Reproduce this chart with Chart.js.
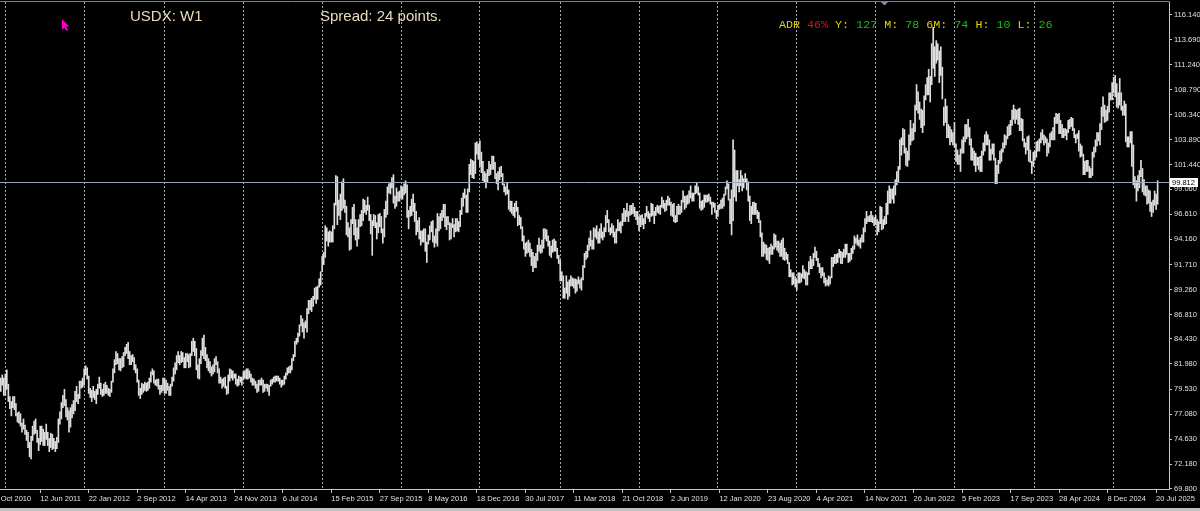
<!DOCTYPE html>
<html>
<head>
<meta charset="utf-8">
<script src="https://cdn.jsdelivr.net/npm/chart.js@4.4.1/dist/chart.umd.min.js"></script>
<style>
  html, body { margin: 0; padding: 0; background: #000; overflow: hidden; }
</style>
</head>
<body>
<canvas id="chart" width="1200" height="511"></canvas>
<script>
// USDX weekly bars (week starting Sunday), high / low per week
const hi2010 = [80.6, 80.9, 80.6]
const lo2010 = [79.3, 79.9, 78.9]

const hi2011 = [81.0, 81.4, 80.0, 78.8, 78.3, 78.8, 78.8, 78.1, 77.2, 77.3, 77.1, 76.2, 76.6, 76.0, 75.5, 75.3, 74.3, 74.9, 75.9, 76.4, 76.6, 75.5, 74.7, 75.9, 75.9, 75.6, 75.3, 76.1, 75.3, 74.7, 75.2, 75.1, 74.7, 74.4, 74.8, 76.6, 77.3, 78.2, 78.9, 79.5, 78.5, 77.7, 77.4, 77.7, 78.0, 78.4, 79.3, 79.8, 79.0, 80.3, 80.3, 80.6]
const lo2011 = [78.9, 79.5, 78.3, 77.6, 76.9, 77.7, 77.5, 76.9, 76.3, 76.2, 75.9, 75.3, 75.6, 75.1, 74.5, 73.8, 72.9, 72.7, 74.5, 75.1, 75.2, 74.3, 73.5, 74.1, 74.4, 74.0, 74.0, 74.6, 74.0, 73.4, 73.8, 73.6, 73.7, 73.4, 73.7, 74.3, 76.1, 76.6, 77.7, 77.9, 76.8, 76.5, 75.3, 75.8, 76.7, 77.1, 77.4, 78.3, 78.1, 78.6, 79.6, 79.7]

const hi2012 = [81.5, 81.8, 81.6, 80.8, 79.6, 79.4, 79.8, 79.3, 79.5, 80.0, 80.7, 80.1, 79.5, 80.0, 80.2, 79.9, 79.6, 79.5, 80.3, 81.5, 82.4, 83.2, 83.0, 82.5, 82.5, 82.7, 83.1, 83.6, 83.9, 84.1, 83.2, 82.8, 82.9, 82.6, 81.9, 81.5, 80.4, 79.6, 80.1, 80.0, 80.2, 80.1, 80.2, 80.6, 81.2, 81.5, 81.3, 80.4, 80.5, 80.5, 79.9, 79.9, 80.6]
const lo2012 = [79.9, 80.9, 80.5, 79.1, 78.7, 78.3, 78.7, 78.5, 78.1, 79.0, 79.6, 79.0, 78.8, 78.9, 79.1, 79.1, 78.9, 78.8, 79.2, 80.2, 81.1, 81.9, 82.0, 81.4, 81.3, 81.6, 81.7, 82.8, 83.0, 82.5, 81.9, 81.9, 82.2, 81.4, 81.1, 80.2, 78.9, 78.6, 79.0, 79.2, 79.4, 79.3, 79.4, 79.6, 80.2, 80.9, 80.1, 79.9, 79.8, 79.5, 79.0, 79.2, 79.4]

const hi2013 = [80.6, 80.4, 80.1, 79.8, 80.0, 80.7, 81.6, 82.1, 82.8, 83.2, 82.8, 83.2, 83.1, 82.6, 83.0, 83.0, 82.9, 83.0, 84.2, 84.5, 84.2, 83.5, 81.9, 82.5, 83.3, 84.5, 84.8, 83.6, 82.9, 82.5, 82.2, 81.7, 81.9, 82.5, 82.7, 82.2, 81.5, 80.7, 80.5, 80.6, 80.7, 79.8, 80.9, 81.5, 81.4, 81.3, 81.0, 81.0, 80.5, 80.8, 80.7, 80.7]
const lo2013 = [79.1, 79.1, 79.4, 78.9, 78.9, 79.8, 80.3, 81.0, 81.4, 82.1, 81.9, 82.1, 82.2, 81.6, 81.6, 82.2, 81.6, 81.7, 82.8, 83.2, 82.8, 81.4, 80.6, 80.5, 82.0, 82.8, 82.5, 82.3, 81.6, 81.3, 81.1, 80.8, 81.0, 81.2, 81.9, 81.1, 80.1, 80.1, 79.6, 79.8, 79.6, 79.0, 79.1, 80.3, 80.6, 80.4, 80.6, 80.0, 79.8, 79.9, 80.2, 79.9]

const hi2014 = [81.2, 81.3, 81.5, 81.5, 81.3, 81.0, 80.6, 80.5, 80.3, 80.0, 80.4, 80.4, 80.6, 80.4, 80.0, 80.0, 80.0, 79.9, 80.4, 80.5, 80.7, 80.8, 80.8, 80.8, 80.6, 80.4, 80.4, 80.8, 81.1, 81.6, 81.7, 81.8, 82.5, 82.9, 84.2, 84.5, 85.0, 85.8, 86.7, 86.4, 86.0, 86.2, 87.4, 88.2, 88.2, 88.4, 88.6, 89.4, 89.5, 89.6, 90.3, 91.0]
const lo2014 = [80.4, 80.6, 80.5, 80.5, 80.6, 80.2, 79.9, 79.9, 79.6, 79.2, 79.3, 79.9, 79.9, 79.2, 79.3, 79.6, 79.3, 78.9, 79.8, 80.0, 80.2, 80.2, 80.3, 80.3, 80.0, 79.7, 79.9, 80.0, 80.5, 80.9, 81.1, 81.1, 81.4, 82.3, 82.7, 83.9, 84.1, 84.7, 85.7, 85.1, 84.5, 85.5, 85.1, 86.9, 87.3, 87.1, 87.6, 88.3, 87.9, 88.3, 89.5, 89.7]

const hi2015 = [92.5, 92.9, 95.5, 95.3, 94.9, 95.0, 94.9, 95.5, 97.7, 100.4, 100.3, 98.0, 98.6, 99.8, 100.1, 98.0, 97.4, 95.8, 95.3, 96.1, 97.3, 97.6, 96.1, 95.3, 96.1, 96.6, 97.0, 98.1, 98.0, 97.5, 98.3, 97.5, 96.6, 96.0, 96.6, 96.5, 95.8, 96.6, 96.7, 96.4, 95.2, 97.1, 97.9, 99.3, 99.6, 99.7, 100.2, 100.5, 98.4, 99.2, 98.8, 98.9]
const lo2015 = [91.0, 91.7, 92.4, 94.0, 93.5, 93.9, 93.9, 93.9, 95.2, 97.5, 95.6, 96.5, 96.1, 97.0, 97.2, 96.8, 94.6, 94.4, 93.1, 93.2, 95.7, 94.6, 94.1, 93.5, 94.2, 95.4, 95.5, 96.0, 96.8, 96.6, 97.0, 96.0, 94.7, 92.6, 95.5, 95.3, 94.2, 94.8, 95.4, 94.8, 93.8, 94.4, 96.3, 96.6, 98.7, 98.6, 99.2, 97.7, 97.2, 97.4, 97.9, 97.9]

const hi2016 = [99.4, 99.3, 99.6, 99.9, 99.5, 97.0, 97.4, 98.1, 98.6, 97.7, 96.9, 96.0, 96.3, 95.0, 95.0, 95.2, 95.2, 93.9, 94.6, 95.5, 95.9, 96.0, 94.5, 95.2, 96.7, 96.4, 96.7, 97.0, 97.6, 97.6, 96.4, 96.4, 95.8, 95.7, 96.2, 95.6, 96.2, 96.2, 95.9, 97.0, 98.2, 98.7, 99.1, 98.5, 99.1, 101.5, 102.0, 101.9, 101.8, 103.6, 103.7, 103.5]
const lo2016 = [98.2, 98.1, 98.5, 98.7, 96.3, 95.2, 96.4, 96.5, 96.9, 95.9, 94.6, 94.9, 94.2, 93.6, 93.9, 93.9, 93.0, 91.9, 93.7, 94.1, 94.9, 93.9, 93.4, 93.8, 93.5, 95.0, 95.2, 96.0, 96.3, 95.4, 95.1, 95.6, 94.1, 94.2, 95.3, 94.4, 94.9, 95.0, 94.9, 95.4, 96.6, 97.4, 98.2, 96.8, 96.8, 98.8, 100.5, 100.2, 100.1, 100.6, 102.5, 102.0]

const hi2017 = [103.8, 102.7, 101.8, 100.8, 100.6, 101.0, 101.8, 101.5, 102.3, 102.3, 101.7, 100.6, 100.8, 101.2, 101.3, 100.6, 99.6, 99.3, 99.7, 99.0, 97.9, 97.9, 97.3, 97.7, 97.9, 97.3, 96.5, 96.3, 95.4, 94.5, 93.8, 93.9, 94.1, 93.8, 93.2, 92.9, 92.5, 92.8, 93.6, 94.3, 93.6, 94.1, 95.2, 95.2, 95.1, 94.5, 94.0, 93.5, 94.1, 94.2, 94.0, 93.3, 92.6]
const lo2017 = [101.3, 100.7, 99.9, 99.8, 99.2, 99.8, 100.4, 100.5, 101.0, 101.0, 100.1, 99.6, 99.0, 100.0, 100.3, 99.5, 98.8, 98.5, 98.6, 97.1, 96.9, 96.7, 96.5, 96.3, 96.9, 95.5, 95.6, 95.2, 94.0, 93.2, 92.5, 92.8, 92.9, 92.5, 91.6, 91.0, 91.4, 91.4, 92.1, 93.0, 92.8, 92.9, 93.3, 94.2, 94.0, 93.5, 92.6, 92.4, 92.9, 93.0, 93.0, 92.3, 91.8]

const hi2018 = [92.1, 91.0, 90.6, 89.4, 90.6, 90.0, 90.2, 90.6, 90.4, 90.3, 90.3, 90.2, 90.5, 90.2, 90.4, 91.6, 92.8, 93.0, 93.6, 94.3, 95.0, 94.1, 95.3, 95.2, 95.5, 94.9, 95.2, 95.7, 94.9, 95.3, 96.5, 97.0, 96.1, 95.3, 95.7, 95.5, 94.9, 95.2, 96.1, 95.8, 95.9, 96.7, 97.2, 97.0, 97.7, 96.9, 97.5, 97.5, 97.7, 97.3, 96.9, 96.9]
const lo2018 = [90.1, 90.1, 88.4, 88.4, 88.9, 88.3, 88.6, 89.6, 89.6, 89.4, 88.9, 89.1, 89.8, 89.4, 89.2, 90.2, 91.4, 92.2, 92.4, 93.1, 93.5, 93.2, 93.2, 94.4, 94.2, 93.8, 93.8, 94.3, 94.1, 94.4, 94.9, 95.8, 94.9, 94.6, 94.8, 94.4, 93.8, 93.8, 95.0, 95.0, 94.8, 95.5, 95.9, 95.9, 96.4, 95.9, 96.5, 96.6, 96.7, 96.4, 96.1, 95.6]

const hi2019 = [96.4, 96.5, 96.6, 96.2, 96.7, 97.4, 96.9, 96.7, 97.7, 97.6, 96.9, 97.3, 97.5, 97.4, 97.5, 98.3, 98.0, 97.7, 98.0, 98.4, 98.2, 97.8, 97.6, 97.7, 96.5, 97.4, 97.6, 97.4, 98.0, 98.9, 98.4, 98.4, 98.5, 98.9, 99.4, 98.7, 98.7, 99.4, 99.7, 99.3, 98.7, 97.9, 98.0, 98.5, 98.5, 98.5, 98.6, 98.3, 97.8, 97.8, 97.7, 97.0]
const lo2019 = [95.0, 95.4, 95.6, 95.2, 95.7, 96.4, 96.2, 95.9, 96.4, 96.5, 95.7, 96.5, 96.8, 96.7, 96.6, 97.3, 97.2, 96.9, 97.0, 97.5, 97.5, 96.5, 96.4, 95.9, 95.8, 95.9, 96.6, 96.6, 96.8, 97.8, 97.1, 97.3, 97.6, 97.7, 98.2, 97.9, 97.9, 98.6, 98.7, 98.5, 97.2, 97.0, 97.1, 97.3, 97.8, 97.8, 97.9, 97.6, 96.6, 97.3, 96.8, 96.2]

const hi2020 = [97.5, 97.6, 98.0, 98.2, 98.6, 99.3, 99.9, 99.6, 98.1, 99.0, 103.9, 102.9, 100.9, 100.9, 100.0, 100.9, 100.4, 100.1, 100.6, 100.1, 99.8, 98.4, 97.4, 97.8, 97.8, 97.7, 97.0, 96.8, 96.0, 94.8, 93.9, 93.7, 93.6, 93.3, 93.4, 93.7, 93.5, 94.7, 94.6, 94.0, 94.0, 93.8, 94.1, 94.3, 93.3, 92.9, 92.7, 91.9, 91.2, 90.9, 90.9, 90.5]
const lo2020 = [96.4, 97.1, 97.2, 97.2, 97.4, 98.5, 99.1, 98.0, 95.7, 94.6, 96.0, 98.3, 97.9, 99.4, 98.8, 99.4, 98.9, 99.2, 99.8, 99.0, 97.9, 96.0, 95.7, 96.6, 96.6, 96.6, 96.2, 95.8, 94.4, 92.5, 92.5, 92.8, 92.2, 92.1, 91.8, 92.7, 92.7, 93.2, 93.4, 93.1, 92.9, 92.5, 92.5, 92.2, 92.1, 92.2, 91.8, 90.5, 90.5, 89.7, 89.8, 89.5]

const hi2021 = [90.2, 90.9, 90.9, 90.8, 91.6, 91.2, 91.0, 90.9, 92.0, 92.5, 92.2, 92.8, 93.4, 93.0, 92.3, 91.8, 91.4, 91.4, 90.9, 90.4, 90.2, 90.6, 90.5, 92.4, 92.4, 92.7, 92.7, 92.8, 93.2, 93.0, 92.9, 93.2, 93.7, 93.7, 92.8, 92.8, 93.3, 93.5, 94.5, 94.3, 94.6, 94.1, 94.3, 94.6, 95.3, 96.2, 96.9, 96.4, 96.5, 96.9, 96.5, 96.3]
const lo2021 = [89.2, 89.9, 89.9, 90.0, 90.4, 90.3, 89.7, 89.7, 90.7, 91.3, 91.3, 91.6, 92.4, 92.1, 91.5, 90.9, 90.4, 90.6, 89.9, 89.6, 89.7, 89.6, 89.8, 90.4, 91.5, 91.8, 91.8, 91.9, 92.4, 91.8, 91.8, 92.4, 92.4, 92.7, 91.9, 92.0, 92.2, 92.8, 93.2, 93.8, 93.6, 93.5, 93.3, 93.9, 93.9, 94.9, 95.7, 95.9, 95.9, 95.9, 95.8, 95.5]

const hi2022 = [96.5, 96.1, 95.9, 97.4, 97.3, 96.1, 96.4, 97.7, 98.9, 99.4, 99.1, 99.1, 99.4, 100.0, 100.8, 101.3, 103.9, 104.1, 105.0, 104.9, 103.1, 102.8, 104.4, 105.8, 105.0, 105.5, 107.3, 109.3, 108.6, 107.6, 106.9, 106.8, 108.2, 109.3, 110.0, 110.8, 110.1, 113.3, 114.9, 113.0, 113.6, 113.3, 112.6, 113.0, 111.0, 107.1, 107.9, 107.2, 105.4, 105.2, 104.9, 104.6]
const lo2022 = [95.6, 94.6, 94.9, 95.7, 95.1, 95.2, 95.6, 95.7, 96.6, 97.7, 97.7, 98.1, 97.7, 98.5, 99.5, 99.8, 101.0, 102.4, 103.4, 102.6, 101.4, 101.3, 101.9, 103.4, 103.8, 103.9, 104.7, 106.8, 106.5, 105.9, 105.1, 104.6, 105.3, 107.8, 108.3, 108.3, 107.6, 109.3, 110.9, 110.1, 111.4, 111.7, 109.5, 110.2, 107.9, 105.3, 105.6, 104.1, 104.1, 103.4, 103.7, 103.4]

const hi2023 = [105.6, 103.5, 102.9, 102.4, 103.0, 103.9, 104.2, 105.4, 105.4, 105.9, 105.1, 104.0, 103.1, 102.8, 102.6, 102.2, 102.2, 102.3, 102.8, 103.6, 104.4, 104.7, 104.4, 103.9, 103.0, 103.5, 103.5, 102.1, 101.4, 101.9, 102.8, 103.0, 103.6, 104.4, 104.3, 105.2, 105.4, 105.8, 106.8, 107.3, 106.9, 106.8, 106.9, 107.0, 106.0, 105.9, 104.0, 103.6, 104.2, 104.3, 102.9, 101.8, 102.7]
const lo2023 = [103.2, 101.8, 101.5, 101.5, 100.8, 102.6, 102.6, 103.7, 104.0, 104.2, 103.4, 101.9, 101.9, 101.4, 100.8, 101.4, 101.0, 100.8, 100.8, 102.4, 102.8, 103.4, 103.4, 101.9, 101.9, 102.5, 101.9, 99.6, 99.6, 100.6, 101.6, 101.8, 102.7, 103.1, 103.4, 104.0, 104.3, 104.4, 105.3, 105.9, 105.5, 105.9, 105.4, 104.8, 104.8, 103.8, 103.2, 102.5, 102.9, 101.8, 101.7, 100.6, 101.3]

const hi2024 = [102.8, 103.7, 103.8, 104.0, 104.6, 104.9, 104.4, 104.2, 104.0, 103.6, 104.5, 104.7, 105.1, 106.1, 106.5, 106.4, 106.5, 105.8, 105.4, 105.0, 105.0, 104.9, 105.8, 105.9, 106.1, 106.0, 105.0, 104.4, 104.5, 104.8, 103.5, 103.3, 102.5, 101.8, 101.9, 101.9, 101.3, 101.1, 102.7, 103.2, 103.9, 104.6, 104.6, 105.5, 107.1, 108.1, 107.3, 106.8, 107.2, 108.5, 108.5, 109.5]
const lo2024 = [101.9, 102.2, 102.8, 102.8, 103.6, 103.9, 103.4, 103.6, 102.3, 102.6, 103.2, 103.9, 103.9, 103.9, 105.5, 105.5, 104.5, 104.5, 104.1, 104.1, 104.3, 103.9, 104.6, 105.0, 105.2, 104.8, 104.1, 103.6, 104.0, 102.8, 102.2, 102.3, 100.5, 100.5, 100.8, 100.8, 100.2, 100.2, 100.4, 102.2, 102.7, 103.3, 103.8, 103.4, 104.9, 106.2, 105.6, 105.7, 105.8, 106.6, 107.8, 107.8]

const hi2025 = [110.0, 110.2, 109.4, 108.5, 109.9, 108.5, 107.2, 107.7, 107.4, 104.2, 104.2, 104.7, 104.7, 103.4, 100.3, 99.9, 100.4, 100.9, 101.9, 101.1, 100.0, 99.4, 99.4, 99.0, 98.9, 97.8, 98.0, 98.9, 98.6, 99.9]
const lo2025 = [108.5, 108.1, 107.1, 107.0, 107.3, 106.8, 106.3, 106.3, 103.7, 103.2, 103.2, 103.6, 101.3, 99.5, 99.2, 97.9, 98.9, 99.2, 100.3, 98.8, 98.5, 98.4, 97.6, 97.7, 96.9, 96.4, 96.8, 97.5, 97.1, 97.6]

// time axis labels as MT4 printed them
const firstTickLabel = 'Oct 2010'
const tickLabels = ['12 Jun 2011', '22 Jan 2012', '2 Sep 2012', '14 Apr 2013', '24 Nov 2013', '6 Jul 2014',
  '15 Feb 2015', '27 Sep 2015', '8 May 2016', '18 Dec 2016', '30 Jul 2017', '11 Mar 2018', '21 Oct 2018',
  '2 Jun 2019', '12 Jan 2020', '23 Aug 2020', '4 Apr 2021', '14 Nov 2021', '26 Jun 2022', '5 Feb 2023',
  '17 Sep 2023', '28 Apr 2024', '8 Dec 2024', '20 Jul 2025']

// price axis
const yTicks = [116.14, 113.69, 111.24, 108.79, 106.34, 103.89, 101.44, 99.06, 96.61, 94.16, 91.71,
  89.26, 86.81, 84.43, 81.98, 79.53, 77.08, 74.63, 72.18, 69.80]
const bid = 99.812

const symbolText = 'USDX: W1'
const spreadText = 'Spread: 24 points.'
const adrParts = [['ADR', 'y'], ['46%', 'r'], ['Y:', 'y'], ['127', 'g'], ['M:', 'y'], ['78', 'g'],
  ['6M:', 'y'], ['74', 'g'], ['H:', 'y'], ['10', 'g'], ['L:', 'y'], ['26', 'g']]

const highYears = [hi2011, hi2012, hi2013, hi2014, hi2015, hi2016, hi2017, hi2018, hi2019, hi2020, hi2021, hi2022, hi2023, hi2024, hi2025]
const lowYears = [lo2011, lo2012, lo2013, lo2014, lo2015, lo2016, lo2017, lo2018, lo2019, lo2020, lo2021, lo2022, lo2023, lo2024, lo2025]

const hi = hi2010.concat(...highYears)
const lo = lo2010.concat(...lowYears)

// first week of every year gets a dotted grid line
const yearStarts = []
let n = hi2010.length
highYears.forEach(arr => { yearStarts.push(n); n += arr.length })

// week dates, plus a few empty slots for the chart shift on the right
const MONTHS = ['Jan', 'Feb', 'Mar', 'Apr', 'May', 'Jun', 'Jul', 'Aug', 'Sep', 'Oct', 'Nov', 'Dec']
const firstWeek = Date.UTC(2010, 11, 12)
const weeks = []
for (let i = 0; i < hi.length + 7; i++) {
  const d = new Date(firstWeek + i * 7 * 86400000)
  weeks.push(d.getUTCDate() + ' ' + MONTHS[d.getUTCMonth()] + ' ' + d.getUTCFullYear())
}

const AXIS = '#c8c8c8'
const TEXT = '#e0e0e0'
const colors = { y: '#e0d000', r: '#e01010', g: '#10c010' }

const overlay = {
  id: 'overlay',
  beforeDraw(chart) {
    const { ctx, width, height } = chart
    ctx.save()
    ctx.fillStyle = '#000'
    ctx.fillRect(0, 0, width, height)
    ctx.restore()
  },
  afterDatasetsDraw(chart) {
    const { ctx, chartArea, scales } = chart
    const py = Math.round(scales.y.getPixelForValue(bid)) + 0.5
    ctx.save()
    ctx.strokeStyle = '#98a4b8'
    ctx.lineWidth = 1
    ctx.beginPath()
    ctx.moveTo(chartArea.left, py)
    ctx.lineTo(chartArea.right, py)
    ctx.stroke()
    ctx.restore()
  },
  afterDraw(chart) {
    const { ctx, chartArea, scales, width, height } = chart
    ctx.save()

    // frame line on top
    ctx.strokeStyle = '#808080'
    ctx.lineWidth = 1
    ctx.beginPath()
    ctx.moveTo(0, 1.5)
    ctx.lineTo(chartArea.right + 0.5, 1.5)
    ctx.stroke()

    // shift marker
    ctx.fillStyle = '#8090a8'
    ctx.beginPath()
    ctx.moveTo(881, 2)
    ctx.lineTo(888, 2)
    ctx.lineTo(884.5, 5.5)
    ctx.closePath()
    ctx.fill()

    // bid price tag
    const py = Math.round(scales.y.getPixelForValue(bid))
    ctx.fillStyle = '#ffffff'
    ctx.fillRect(chartArea.right + 1, py - 4, 28, 9)
    ctx.fillStyle = '#000'
    ctx.font = '7.5px "Liberation Sans"'
    ctx.textBaseline = 'middle'
    ctx.textAlign = 'left'
    ctx.fillText(bid.toFixed(3), chartArea.right + 3, py + 0.5)

    // titles
    ctx.textBaseline = 'alphabetic'
    ctx.fillStyle = '#ecd9bc'
    ctx.font = '15px "Liberation Sans"'
    ctx.fillText(symbolText, 130, 21)
    ctx.fillText(spreadText, 320, 21)

    // ADR line
    ctx.font = '11.7px "Liberation Mono"'
    let x = 779
    const space = ctx.measureText(' ').width
    adrParts.forEach(([t, c]) => {
      ctx.fillStyle = colors[c]
      ctx.fillText(t, x, 28)
      x += ctx.measureText(t).width + space
    })

    // mouse cursor
    ctx.fillStyle = '#ff00cc'
    ctx.beginPath()
    ctx.moveTo(62, 19)
    ctx.lineTo(62, 30)
    ctx.lineTo(64.5, 27.5)
    ctx.lineTo(66.5, 31)
    ctx.lineTo(68, 30)
    ctx.lineTo(66, 26.5)
    ctx.lineTo(69, 26.5)
    ctx.closePath()
    ctx.fill()

    // window edge at the bottom
    ctx.fillStyle = '#c0c0c0'
    ctx.fillRect(0, height - 3, width, 3)
    ctx.restore()
  }
}

Chart.defaults.font.family = '"Liberation Sans", Arial, sans-serif'

new Chart(document.getElementById('chart'), {
  type: 'bar',
  data: {
    labels: weeks,
    datasets: [{
      data: lo.map((l, i) => [l, hi[i]]),
      backgroundColor: '#dedede',
      borderWidth: 0,
      borderSkipped: false,
      barThickness: 1
    }]
  },
  options: {
    responsive: false,
    animation: false,
    events: [],
    layout: { padding: { top: 2, left: 0, right: 0, bottom: 0 } },
    plugins: { legend: { display: false }, tooltip: { enabled: false } },
    scales: {
      x: {
        offset: true,
        grid: {
          offset: false,
          lineWidth: 1,
          color: c => yearStarts.includes(c.index) ? '#a8a8a8' : 'rgba(0,0,0,0)',
          tickColor: c => (c.index > 0 && tickLabels.includes(weeks[c.index])) ? AXIS : 'rgba(0,0,0,0)',
          tickLength: 4
        },
        border: { color: AXIS, dash: [2, 2] },
        ticks: {
          autoSkip: false,
          maxRotation: 0,
          minRotation: 0,
          align: 'start',
          padding: 1,
          color: TEXT,
          font: { size: 7.5 },
          callback(v, i) {
            if (i === 0) return firstTickLabel
            return tickLabels.includes(weeks[i]) ? weeks[i] : ''
          }
        },
        afterFit(s) {
          s.height = 22
          s.paddingLeft = 0
          s.paddingRight = 0
        }
      },
      y: {
        position: 'right',
        min: 69.75,
        max: 117.38,
        afterBuildTicks(s) { s.ticks = yTicks.map(v => ({ value: v })) },
        grid: { drawOnChartArea: false, tickLength: 3, tickColor: AXIS },
        border: { color: AXIS },
        ticks: {
          padding: 2,
          color: TEXT,
          font: { size: 7.5 },
          callback: v => Number(v).toFixed(3)
        },
        afterFit(s) {
          s.width = 31
          s.paddingTop = 0
          s.paddingBottom = 0
        }
      }
    }
  },
  plugins: [overlay]
})
</script>
</body>
</html>
